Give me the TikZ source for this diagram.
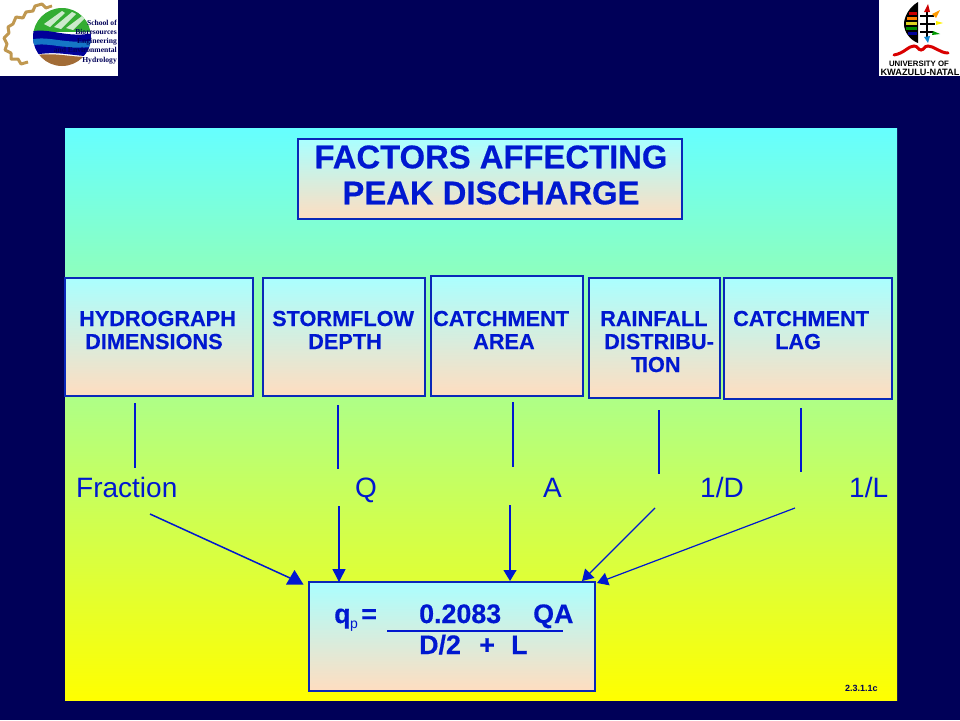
\documentclass[tikz,border=0pt]{standalone}
\usepackage{fontspec}
\setmainfont{Liberation Sans}
\newfontfamily\logoserif{Liberation Serif}
\newfontfamily\heavysans[FakeBold=0.4]{Liberation Sans Bold}
\usetikzlibrary{arrows.meta,calc}
\definecolor{navybg}{HTML}{000058}
\definecolor{inkblue}{HTML}{0018D0}
\definecolor{edgeblue}{HTML}{0A28B8}
\definecolor{boxtop}{HTML}{AAFFFF}
\definecolor{boxbot}{HTML}{FFDDC0}
\definecolor{gearbrown}{HTML}{C09850}
\tikzset{
  x=1pt,y=-1pt,
  factorbox/.style={draw=edgeblue,line width=2pt,top color=boxtop,bottom color=boxbot,shading angle=0},
  boxlabel/.style={text=inkblue,font=\heavysans\fontsize{21.7}{23.5}\selectfont,align=left,anchor=base west,inner sep=0pt},
  varlabel/.style={text=inkblue,font=\fontsize{28}{30}\selectfont,anchor=base west,inner sep=0pt},
  tick/.style={draw=inkblue,line width=1.4pt},
  arrowthin/.style={draw=inkblue,line width=1.2pt,-{Triangle[length=11pt,width=13pt]}},
  formula/.style={text=inkblue,font=\heavysans\fontsize{26.8}{28}\selectfont,anchor=base west,inner sep=0pt},
  logotext/.style={text=navybg,font=\logoserif\fontsize{7.6}{9}\selectfont\bfseries,anchor=base east,inner sep=0pt}
}
\begin{document}
\begin{tikzpicture}
\useasboundingbox (0,0) rectangle (960,720);
\fill[navybg] (0,0) rectangle (960,720);
% panel
\shade[top color={rgb,255:red,102;green,255;blue,255},bottom color={rgb,255:red,255;green,255;blue,0}] (65,128) rectangle (897,700);
% title
\path[factorbox] (298,139) rectangle (682,219);
\node[text=inkblue,font=\heavysans\fontsize{32.8}{36}\selectfont,align=center,inner sep=0pt] (title) at (491,175) {FACTORS AFFECTING\\PEAK DISCHARGE};
% factor boxes
\node[factorbox,minimum width=188pt,minimum height=118pt,inner sep=0pt] (b1) at (159,336.5) {};
\node[factorbox,minimum width=162pt,minimum height=118pt,inner sep=0pt] (b2) at (344,336.5) {};
\node[factorbox,minimum width=152pt,minimum height=120pt,inner sep=0pt] (b3) at (506.5,335.5) {};
\node[factorbox,minimum width=131pt,minimum height=120pt,inner sep=0pt] (b4) at (654.5,337.5) {};
\node[factorbox,minimum width=168pt,minimum height=121pt,inner sep=0pt] (b5) at (807.5,338) {};
\node[boxlabel] (t1a) at (79,326) {HYDROGRAPH};
\node[boxlabel] (t1b) at (85,349) {DIMENSIONS};
\node[boxlabel] (t2a) at (272,326) {STORMFLOW};
\node[boxlabel] (t2b) at (308,349) {DEPTH};
\node[boxlabel] (t3a) at (433,326) {CATCHMENT};
\node[boxlabel] (t3b) at (473,349) {AREA};
\node[boxlabel] (t4a) at (600,326) {RAINFALL};
\node[boxlabel] (t4b) at (604,349) {DISTRIBU-};
\node[boxlabel] (t4c) at (631,372) {T\kern-2.5pt ION};
\node[boxlabel] (t5a) at (733,326) {CATCHMENT};
\node[boxlabel] (t5b) at (775,349) {LAG};
% variable labels
\node[varlabel] (vf) at (76,497) {Fraction};
\node[varlabel] (vq) at (355,497) {Q};
\node[varlabel] (va) at (543,497) {A};
\node[varlabel] (vd) at (700,497) {1/D};
\node[varlabel] (vl) at (849,497) {1/L};
% formula box
\node[factorbox,minimum width=286pt,minimum height=109pt,inner sep=0pt] (fb) at (452,636) {};
\node[formula] (fq) at (334,623) {q};
\node[text=inkblue,font=\fontsize{14}{16}\selectfont,anchor=base west,inner sep=0pt] (fp) at (350,628) {p};
\node[formula] (feq) at (361,623) {=};
\node[formula] (fnum) at (419,623) {0.2083};
\node[formula] (fqa) at (533,623) {QA};
\node[formula] (fden) at (419,654) {D/2};
\node[formula] (fplus) at (479,654) {+};
\node[formula] (fl) at (511,654) {L};
\coordinate (barl) at (387,631);
\coordinate (barr) at (563,631);
\draw[draw=inkblue,line width=1.1pt] (barl) -- (barr);
% drop lines
\coordinate (d1) at (135,468); \coordinate (d2) at (338,469); \coordinate (d3) at (513,467);
\coordinate (d4a) at (659,410); \coordinate (d4b) at (659,474);
\coordinate (d5a) at (801,408); \coordinate (d5b) at (801,472);
\coordinate (u1) at (135,403); \coordinate (u2) at (338,405); \coordinate (u3) at (513,402);
\draw[tick] (u1) -- (d1);
\draw[tick] (u2) -- (d2);
\draw[tick] (u3) -- (d3);
\draw[tick] (d4a) -- (d4b);
\draw[tick] (d5a) -- (d5b);
% arrows
\coordinate (s1) at (150,514); \coordinate (e1) at (290,578);
\coordinate (s2) at (339,506); \coordinate (e2) at (339,582);
\coordinate (s3) at (510,505); \coordinate (e3) at (510,581);
\coordinate (s4) at (655,508); \coordinate (e4) at (582,581);
\coordinate (s5) at (795,508); \coordinate (e5) at (597,583);
\draw[draw=inkblue,line width=1.5pt] (s1) -- (e1);
\fill[inkblue] (294.5,570) -- (303.5,584.5) -- (286,584.5) -- cycle;
\draw[draw=inkblue,line width=1.5pt,-{Triangle[length=13pt,width=13pt]}] (s2) -- (e2);
\draw[arrowthin] (s3) -- (e3);
\draw[arrowthin] (s4) -- (e4);
\draw[arrowthin] (s5) -- (e5);
% slide code
\node[text=navybg,font=\fontsize{9}{10}\selectfont\bfseries,anchor=base west,inner sep=0pt] (code) at (845,691) {2.3.1.1c};
% left logo
\fill[white] (0,0) rectangle (118,76);
\draw[gearbrown,line width=3pt,line join=round]
 (52,6) -- (46,8) -- (42,4) -- (35,6) -- (33,11) -- (26,12) -- (23,18) -- (16,17) -- (13,24) -- (8,27) -- (9,33) -- (4,38) -- (7,44) -- (5,50) -- (11,53) -- (11,59) -- (18,59) -- (21,64) -- (28,62);
\fill[white] (62,37) circle (31);
\begin{scope}
 \clip (62,37) circle (29);
 \fill[green!60!black!80!white] (30,0) rectangle (105,32);
 \fill[white,opacity=.75] (44,24) -- (62,11) -- (65,13) -- (50,27) -- cycle;
 \fill[white,opacity=.75] (54,27) -- (72,12) -- (76,14) -- (61,29) -- cycle;
 \fill[white,opacity=.75] (66,28) -- (82,16) -- (85,18) -- (73,30) -- cycle;
 \fill[blue!60!black] (30,32) .. controls (50,26) and (70,42) .. (105,30) -- (105,55) .. controls (80,60) and (60,48) .. (30,56) -- cycle;
 \fill[cyan!55!blue] (30,40) .. controls (50,34) and (70,48) .. (105,38) -- (105,44) .. controls (70,54) and (50,40) .. (30,46) -- cycle;
 \fill[brown!85!black] (30,56) .. controls (60,50) and (80,62) .. (105,54) -- (105,72) -- (30,72) -- cycle;
\end{scope}
\node[logotext] (l1) at (117,25) {School of};
\node[logotext] (l2) at (117,34) {Bioresources};
\node[logotext] (l3) at (117,43) {Engineering};
\node[logotext] (l4) at (117,52) {and Environmental};
\node[logotext] (l5) at (117,62) {Hydrology};
% right logo
\fill[white] (879,0) rectangle (960,76);
\fill[black] (918,2) .. controls (908,8) and (904,18) .. (904,24) .. controls (904,32) and (910,40) .. (918,43) -- cycle;
\fill[red!80!black] (909,12) rectangle (917,14.5);
\fill[orange] (907,17) rectangle (917,19.5);
\fill[yellow!85!black] (906,22) rectangle (917,24.5);
\fill[green!55!black] (906,27) rectangle (917,29.5);
\fill[blue!60!black] (908,32) rectangle (917,34.5);
\draw[black,line width=1.1pt] (920,16) -- (934,16) (920,24) -- (935,24) (920,32) -- (933,32) (927,8) -- (927,38);
\fill[red!80!black] (924,12) -- (928,4) -- (930,12) -- cycle;
\fill[orange!80!yellow] (932,14) -- (940,10) -- (936,18) -- cycle;
\fill[yellow] (936,21) -- (943,23) -- (936,25) -- cycle;
\fill[green!60!black] (933,31) -- (940,34) -- (932,35) -- cycle;
\fill[cyan!70!blue] (924,37) -- (928,43) -- (930,36) -- cycle;
\draw[red!85!black,line width=3pt,line cap=round] (894,55) .. controls (905,53) and (908,46) .. (914,46) .. controls (918,46) and (918,50) .. (921,50) .. controls (924,50) and (924,46) .. (928,46) .. controls (934,46) and (940,53) .. (948,53);
\node[text=black,font=\fontsize{7.8}{9}\selectfont\bfseries,inner sep=0pt] (u1l) at (919,64) {UNIVERSITY OF};
\node[text=black,font=\fontsize{9.2}{10}\selectfont\bfseries,inner sep=0pt] (u2l) at (920,72.5) {KWAZULU-NATAL};
\end{tikzpicture}
\end{document}
